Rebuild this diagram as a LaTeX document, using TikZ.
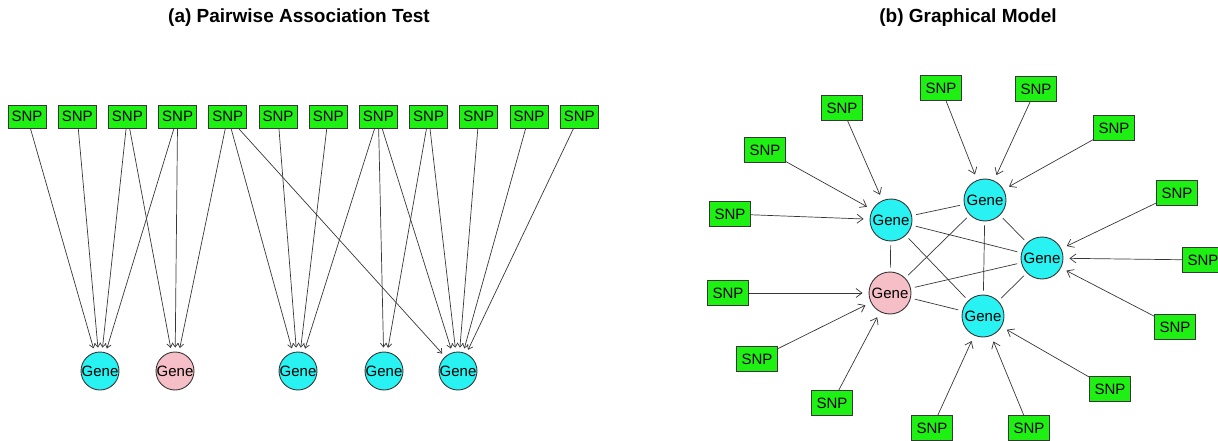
\documentclass[tikz,border=0pt]{standalone}
\usepackage{fontspec}
\setmainfont{Liberation Sans}
\usepackage{xcolor}
\usepackage{tikz}
\usetikzlibrary{positioning, arrows.meta}

\definecolor{snpgreen}{RGB}{30,240,20}
\definecolor{genecyan}{RGB}{40,242,242}
\definecolor{genepink}{RGB}{246,190,198}
\definecolor{linegray}{RGB}{55,55,55}

\tikzset{
    snp/.style={rectangle, draw=linegray, line width=0.9pt, fill=snpgreen,
        minimum width=38pt, minimum height=23pt, inner sep=0pt,
        font=\fontsize{15}{18}\selectfont},
    gene/.style={circle, draw=linegray, line width=0.9pt, fill=genecyan,
        minimum size=38pt, inner sep=0pt, font=\fontsize{15}{18}\selectfont},
    pinkgene/.style={gene, fill=genepink},
    assoc/.style={draw=linegray, line width=0.7pt, ->, shorten >=4pt},
    link/.style={draw=linegray, line width=0.7pt, shorten >=4pt, shorten <=4pt},
    paneltitle/.style={font=\fontsize{19}{22}\selectfont\bfseries}
}
\newcommand{\genetext}{\makebox[0pt]{Gene}}

\begin{document}
\begin{tikzpicture}[x=1pt, y=-1pt, >={Straight Barb[length=4pt,width=6pt]}]
    \useasboundingbox (0,0) rectangle (1218,441);

    % titles
    \node[paneltitle] (titlea) at (299,18) {(a) Pairwise Association Test};
    \node[paneltitle] (titleb) at (968,18) {(b) Graphical Model};

    % (a) SNP row
    \node[snp] (a1) at (27,116.5) {SNP};
    \node[snp] (a2) [right=11.3pt of a1] {SNP};
    \node[snp] (a3) [right=11.3pt of a2] {SNP};
    \node[snp] (a4) [right=11.3pt of a3] {SNP};
    \node[snp] (a5) [right=11.3pt of a4] {SNP};
    \node[snp] (a6) [right=11.3pt of a5] {SNP};
    \node[snp] (a7) [right=11.3pt of a6] {SNP};
    \node[snp] (a8) [right=11.3pt of a7] {SNP};
    \node[snp] (a9) [right=11.3pt of a8] {SNP};
    \node[snp] (a10) [right=11.3pt of a9] {SNP};
    \node[snp] (a11) [right=11.3pt of a10] {SNP};
    \node[snp] (a12) [right=11.3pt of a11] {SNP};

    % (a) genes
    \node[gene] (ga1) at (100,371) {\genetext};
    \node[pinkgene] (ga2) at (175,371) {\genetext};
    \node[gene] (ga3) at (298,371) {\genetext};
    \node[gene] (ga4) at (384,371) {\genetext};
    \node[gene] (ga5) at (458,371) {\genetext};

    % (a) associations
    \draw[assoc] (a1) -- (ga1);
    \draw[assoc] (a2) -- (ga1);
    \draw[assoc] (a3) -- (ga1);
    \draw[assoc] (a3) -- (ga2);
    \draw[assoc] (a4) -- (ga1);
    \draw[assoc] (a4) -- (ga2);
    \draw[assoc] (a5) -- (ga2);
    \draw[assoc] (a5) -- (ga3);
    \draw[assoc] (a5) -- (ga5);
    \draw[assoc] (a6) -- (ga3);
    \draw[assoc] (a7) -- (ga3);
    \draw[assoc] (a8) -- (ga3);
    \draw[assoc] (a8) -- (ga4);
    \draw[assoc] (a8) -- (ga5);
    \draw[assoc] (a9) -- (ga4);
    \draw[assoc] (a9) -- (ga5);
    \draw[assoc] (a10) -- (ga5);
    \draw[assoc] (a11) -- (ga5);
    \draw[assoc] (a12) -- (ga5);

    % (b) graphical model
    \begin{scope}[>={Straight Barb[length=6pt,width=9pt]},
        snp/.append style={minimum width=41pt, minimum height=25pt},
        gene/.append style={minimum size=42pt},
        assoc/.append style={shorten >=6pt}]
        \node[gene] (gb1) at (891,220) {\genetext};
        \node[gene] (gb2) at (985,200) {\genetext};
        \node[gene] (gb3) at (1042,258) {\genetext};
        \node[gene] (gb4) at (983,316) {\genetext};
        \node[pinkgene] (gb5) at (890,293) {\genetext};

        \node[snp] (b1) at (842,108) {SNP};
        \node[snp] (b2) at (765,150) {SNP};
        \node[snp] (b3) at (730,214) {SNP};
        \node[snp] (b4) at (941,88) {SNP};
        \node[snp] (b5) at (1036,89) {SNP};
        \node[snp] (b6) at (1114,128) {SNP};
        \node[snp] (b7) at (1177,193) {SNP};
        \node[snp] (b8) at (1203,260) {SNP};
        \node[snp] (b9) at (1175,327) {SNP};
        \node[snp] (b10) at (1110,389) {SNP};
        \node[snp] (b11) at (1029,428) {SNP};
        \node[snp] (b12) at (932,428) {SNP};
        \node[snp] (b13) at (728,293) {SNP};
        \node[snp] (b14) at (757,359) {SNP};
        \node[snp] (b15) at (832,403) {SNP};

        % gene-gene links
        \draw[link] (gb1) -- (gb2);
        \draw[link] (gb1) -- (gb3);
        \draw[link] (gb1) -- (gb4);
        \draw[link] (gb1) -- (gb5);
        \draw[link] (gb2) -- (gb3);
        \draw[link] (gb2) -- (gb4);
        \draw[link] (gb2) -- (gb5);
        \draw[link] (gb3) -- (gb4);
        \draw[link] (gb3) -- (gb5);
        \draw[link] (gb4) -- (gb5);

        % SNP -> gene
        \draw[assoc] (b1) -- (gb1);
        \draw[assoc] (b2) -- (gb1);
        \draw[assoc] (b3) -- (gb1);
        \draw[assoc] (b4) -- (gb2);
        \draw[assoc] (b5) -- (gb2);
        \draw[assoc] (b6) -- (gb2);
        \draw[assoc] (b7) -- (gb3);
        \draw[assoc] (b8) -- (gb3);
        \draw[assoc] (b9) -- (gb3);
        \draw[assoc] (b10) -- (gb4);
        \draw[assoc] (b11) -- (gb4);
        \draw[assoc] (b12) -- (gb4);
        \draw[assoc] (b13) -- (gb5);
        \draw[assoc] (b14) -- (gb5);
        \draw[assoc] (b15) -- (gb5);
    \end{scope}
\end{tikzpicture}
\end{document}
